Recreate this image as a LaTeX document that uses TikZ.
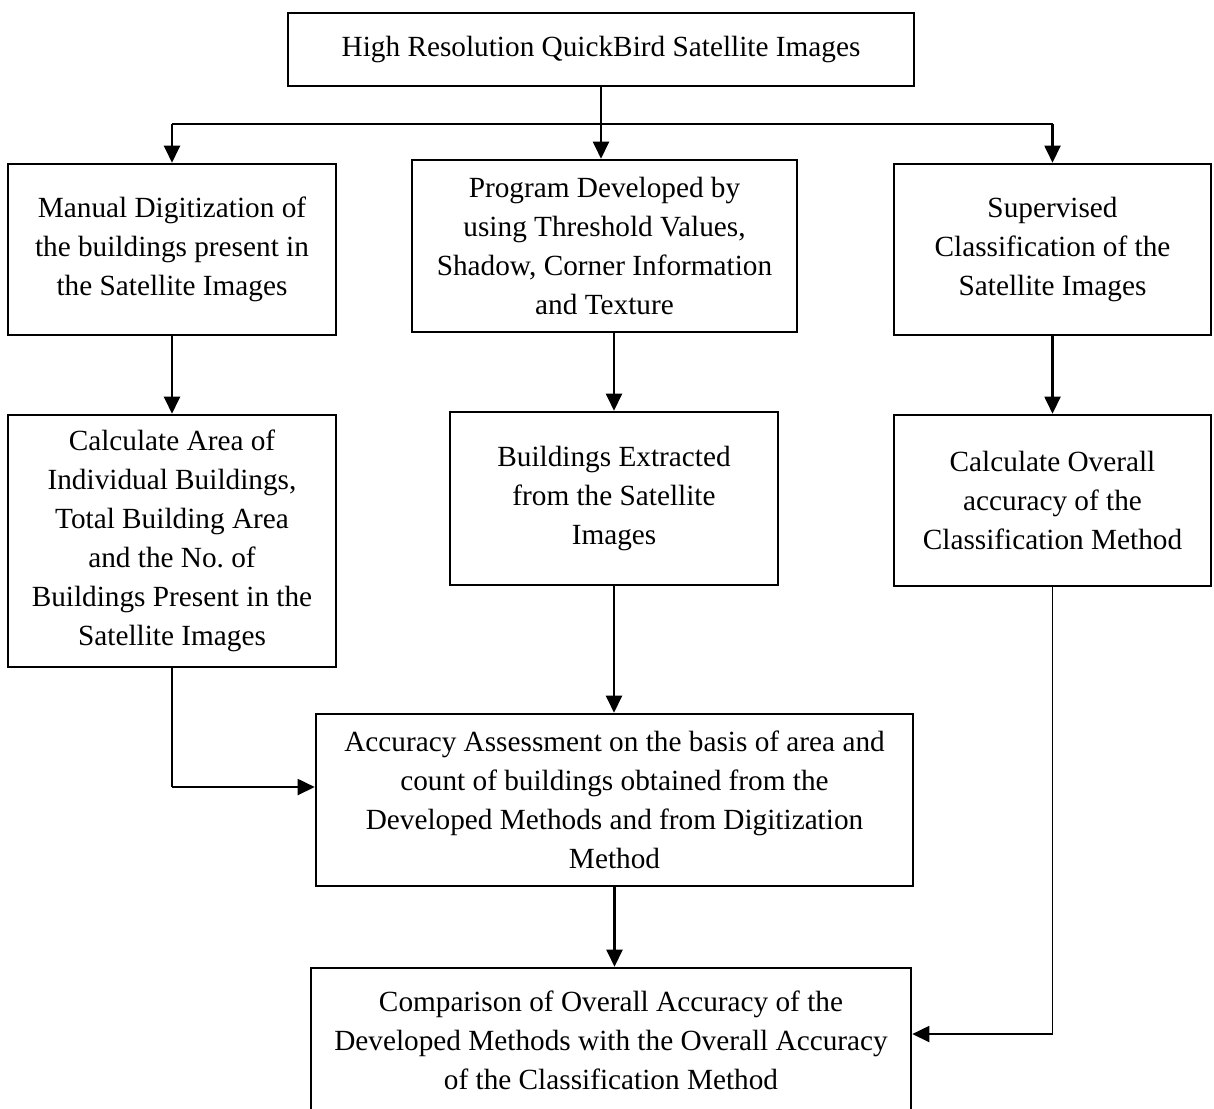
\documentclass[tikz,border=0pt]{standalone}
\usepackage{fontspec}
\setmainfont{Liberation Serif}
\usetikzlibrary{arrows.meta}

\begin{document}
\begin{tikzpicture}[x=0.41pt,y=-0.41pt,>={Triangle[length=7pt,width=6.5pt]},line width=1pt,
  block/.style 2 args={draw,rectangle,align=center,font=\fontsize{12}{16}\selectfont,minimum width=#1*0.41pt,minimum height=#2*0.41pt},
  feed/.style={line width=0.5pt}]

  \useasboundingbox (0,0) rectangle (1214,1108);
  \clip (0,0) rectangle (1214,1108);

  \node[block={626}{73}] (src) at (601,49.5) {High Resolution QuickBird Satellite Images};
  \node[block={328}{171}] (digit) at (172,249.5) {Manual Digitization of\\the buildings present in\\the Satellite Images};
  \node[block={385}{172}] (prog) at (604.5,246) {Program Developed by\\using Threshold Values,\\Shadow, Corner Information\\and Texture};
  \node[block={317}{171}] (superv) at (1052.5,249.5) {Supervised\\Classification of the\\Satellite Images};
  \node[block={328}{252}] (area) at (172,541) {Calculate Area of\\Individual Buildings,\\Total Building Area\\and the No.\ of\\Buildings Present in the\\Satellite Images};
  \node[block={328}{173}] (extract) at (614,498.5) {Buildings Extracted\\from the Satellite\\Images};
  \node[block={317}{171}] (overall) at (1052.5,500.5) {Calculate Overall\\accuracy of the\\Classification Method};
  \node[block={597}{172}] (assess) at (614.5,800) {Accuracy Assessment on the basis of area and\\count of buildings obtained from the\\Developed Methods and from Digitization\\Method};
  \node[block={600}{144}] (compare) at (611,1040) {Comparison of Overall Accuracy of the\\Developed Methods with the Overall Accuracy\\of the Classification Method};

  \coordinate (fork) at (601,124);
  \coordinate (bendL) at (172,787);
  \coordinate (bendR) at (1052.5,1034);

  \draw[->] (src.south) -- (src.south |- prog.north);
  \draw[line width=0.6pt] (digit.north |- fork) -- (superv.north |- fork);
  \draw[->] (digit.north |- fork) -- (digit.north);
  \draw[->] (superv.north |- fork) -- (superv.north);
  \draw[->] (digit) -- (area);
  \draw[->] (extract.north |- prog.south) -- (extract.north);
  \draw[->] (superv) -- (overall);
  \draw[->] (extract.south) -- (extract.south |- assess.north);
  \draw[->] (assess.south) -- (assess.south |- compare.north);
  \draw[feed] (area.south) -- (bendL);
  \draw[->] (bendL) -- (bendL -| assess.west);
  \draw[feed] (overall.south) -- (bendR);
  \draw[->] (bendR) -- (bendR -| compare.east);
\end{tikzpicture}
\end{document}
